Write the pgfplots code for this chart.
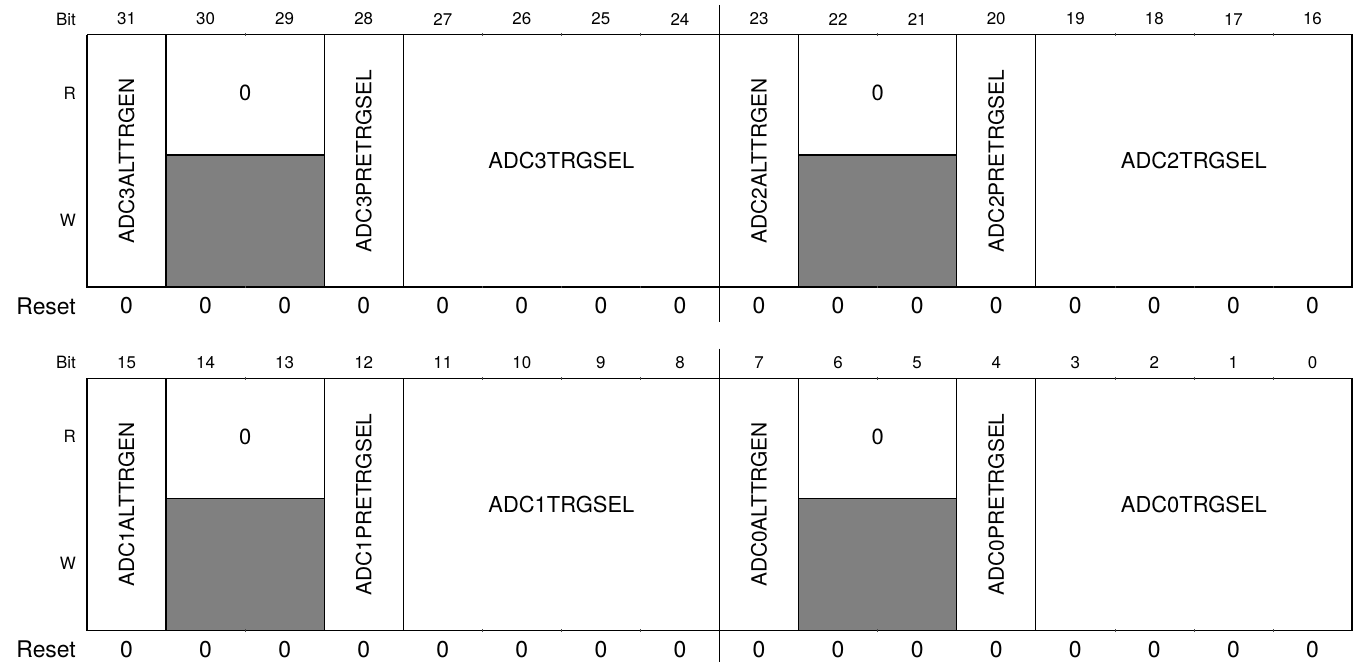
\documentclass[border=0pt]{standalone}
\usepackage{pgfplots}
\pgfplotsset{compat=1.18}
\usepackage{fontspec}
\setmainfont{TeX Gyre Heros}

\begin{document}
\begin{tikzpicture}
\begin{axis}[width=1353bp,height=662bp,scale only axis,
  xmin=-1.1004,xmax=16.0127,ymin=0,ymax=662,y dir=reverse,
  hide axis, clip=false, line join=miter, unbounded coords=jump,
  nodes near coords align=center,
  every node near coord/.append style={anchor=center, inner sep=0pt, text=black}]
% bounding box
\addplot[draw=none, mark=none] coordinates {(-1.1004,0) (16.0127,662)};
% reserved (grey) areas
\addplot[draw=black, fill=gray, line width=1.2bp, mark=none] coordinates {(1,155) (3,155) (3,287) (1,287) (1,155)};
\addplot[draw=black, fill=gray, line width=1.2bp, mark=none] coordinates {(9,155) (11,155) (11,287) (9,287) (9,155)};
\addplot[draw=black, fill=gray, line width=1.2bp, mark=none] coordinates {(1,498.5) (3,498.5) (3,630.5) (1,630.5) (1,498.5)};
\addplot[draw=black, fill=gray, line width=1.2bp, mark=none] coordinates {(9,498.5) (11,498.5) (11,630.5) (9,630.5) (9,498.5)};
% outer boxes
\addplot[black, line width=1.3bp, mark=none] coordinates {(0,34.8) (16,34.8) (16,287) (0,287) (0,34.8)};
\addplot[black, line width=1.3bp, mark=none] coordinates {(0,378.3) (16,378.3) (16,630.5) (0,630.5) (0,378.3)};
% field boundaries
\addplot[black, line width=1.2bp, mark=none] table {
x y
1 34.8
1 287
nan nan
3 34.8
3 287
nan nan
4 34.8
4 287
nan nan
9 34.8
9 287
nan nan
11 34.8
11 287
nan nan
12 34.8
12 287
nan nan
1 378.3
1 630.5
nan nan
3 378.3
3 630.5
nan nan
4 378.3
4 630.5
nan nan
9 378.3
9 630.5
nan nan
11 378.3
11 630.5
nan nan
12 378.3
12 630.5
};
% byte separators
\addplot[black, line width=1.1bp, mark=none] table {
x y
8 5
8 322
nan nan
8 348.5
8 662
};
% bit ticks on box edges
\addplot[black!70, line width=0.6bp, mark=none] table {
x y
2 33.5
2 36
nan nan
5 33.5
5 36
nan nan
6 33.5
6 36
nan nan
7 33.5
7 36
nan nan
10 33.5
10 36
nan nan
13 33.5
13 36
nan nan
14 33.5
14 36
nan nan
15 33.5
15 36
nan nan
2 288
2 285.5
nan nan
5 288
5 285.5
nan nan
6 288
6 285.5
nan nan
7 288
7 285.5
nan nan
10 288
10 285.5
nan nan
13 288
13 285.5
nan nan
14 288
14 285.5
nan nan
15 288
15 285.5
nan nan
2 377
2 379.5
nan nan
5 377
5 379.5
nan nan
6 377
6 379.5
nan nan
7 377
7 379.5
nan nan
10 377
10 379.5
nan nan
13 377
13 379.5
nan nan
14 377
14 379.5
nan nan
15 377
15 379.5
nan nan
2 631.5
2 629
nan nan
5 631.5
5 629
nan nan
6 631.5
6 629
nan nan
7 631.5
7 629
nan nan
10 631.5
10 629
nan nan
13 631.5
13 629
nan nan
14 631.5
14 629
nan nan
15 631.5
15 629
};
% bit numbers
\addplot[draw=none, mark=none, nodes near coords, point meta=explicit symbolic,
  every node near coord/.append style={font=\fontsize{17}{20}\selectfont}] table[meta=t] {
x y t
0.5 19 31
1.5 19 30
2.5 19 29
3.5 19 28
4.5 19 27
5.5 19 26
6.5 19 25
7.5 19 24
8.5 19 23
9.5 19 22
10.5 19 21
11.5 19 20
12.5 19 19
13.5 19 18
14.5 19 17
15.5 19 16
0.5 362.5 15
1.5 362.5 14
2.5 362.5 13
3.5 362.5 12
4.5 362.5 11
5.5 362.5 10
6.5 362.5 9
7.5 362.5 8
8.5 362.5 7
9.5 362.5 6
10.5 362.5 5
11.5 362.5 4
12.5 362.5 3
13.5 362.5 2
14.5 362.5 1
15.5 362.5 0
};
% row labels (small)
\addplot[draw=none, mark=none, nodes near coords, point meta=explicit symbolic,
  every node near coord/.append style={font=\fontsize{17}{20}\selectfont, anchor=east}] table[meta=t] {
x y t
-0.139 19 Bit
-0.139 93 R
-0.139 220 W
-0.139 362.5 Bit
-0.139 436.5 R
-0.139 563.5 W
};
% reset label
\addplot[draw=none, mark=none, nodes near coords, point meta=explicit symbolic,
  every node near coord/.append style={font=\fontsize{23}{26}\selectfont, anchor=east}] table[meta=t] {
x y t
-0.139 306 Reset
-0.139 649.5 Reset
};
% reset values
\addplot[draw=none, mark=none, nodes near coords, point meta=explicit symbolic,
  every node near coord/.append style={font=\fontsize{23}{26}\selectfont}] table[meta=t] {
x y t
0.5 306 0
1.5 306 0
2.5 306 0
3.5 306 0
4.5 306 0
5.5 306 0
6.5 306 0
7.5 306 0
8.5 306 0
9.5 306 0
10.5 306 0
11.5 306 0
12.5 306 0
13.5 306 0
14.5 306 0
15.5 306 0
0.5 649.5 0
1.5 649.5 0
2.5 649.5 0
3.5 649.5 0
4.5 649.5 0
5.5 649.5 0
6.5 649.5 0
7.5 649.5 0
8.5 649.5 0
9.5 649.5 0
10.5 649.5 0
11.5 649.5 0
12.5 649.5 0
13.5 649.5 0
14.5 649.5 0
15.5 649.5 0
};
% horizontal field names and reserved read values
\addplot[draw=none, mark=none, nodes near coords, point meta=explicit symbolic,
  every node near coord/.append style={font=\fontsize{22}{25}\selectfont}] table[meta=t] {
x y t
2 93 0
10 93 0
6 161 ADC3TRGSEL
14 161 ADC2TRGSEL
2 436.5 0
10 436.5 0
6 504.5 ADC1TRGSEL
14 504.5 ADC0TRGSEL
};
% vertical field names
\addplot[draw=none, mark=none, nodes near coords, point meta=explicit symbolic,
  every node near coord/.append style={font=\fontsize{21}{24}\selectfont, rotate=90}] table[meta=t] {
x y t
0.5 161 ADC3ALTTRGEN
3.5 161 ADC3PRETRGSEL
8.5 161 ADC2ALTTRGEN
11.5 161 ADC2PRETRGSEL
0.5 504.5 ADC1ALTTRGEN
3.5 504.5 ADC1PRETRGSEL
8.5 504.5 ADC0ALTTRGEN
11.5 504.5 ADC0PRETRGSEL
};
\end{axis}
\end{tikzpicture}
\end{document}
